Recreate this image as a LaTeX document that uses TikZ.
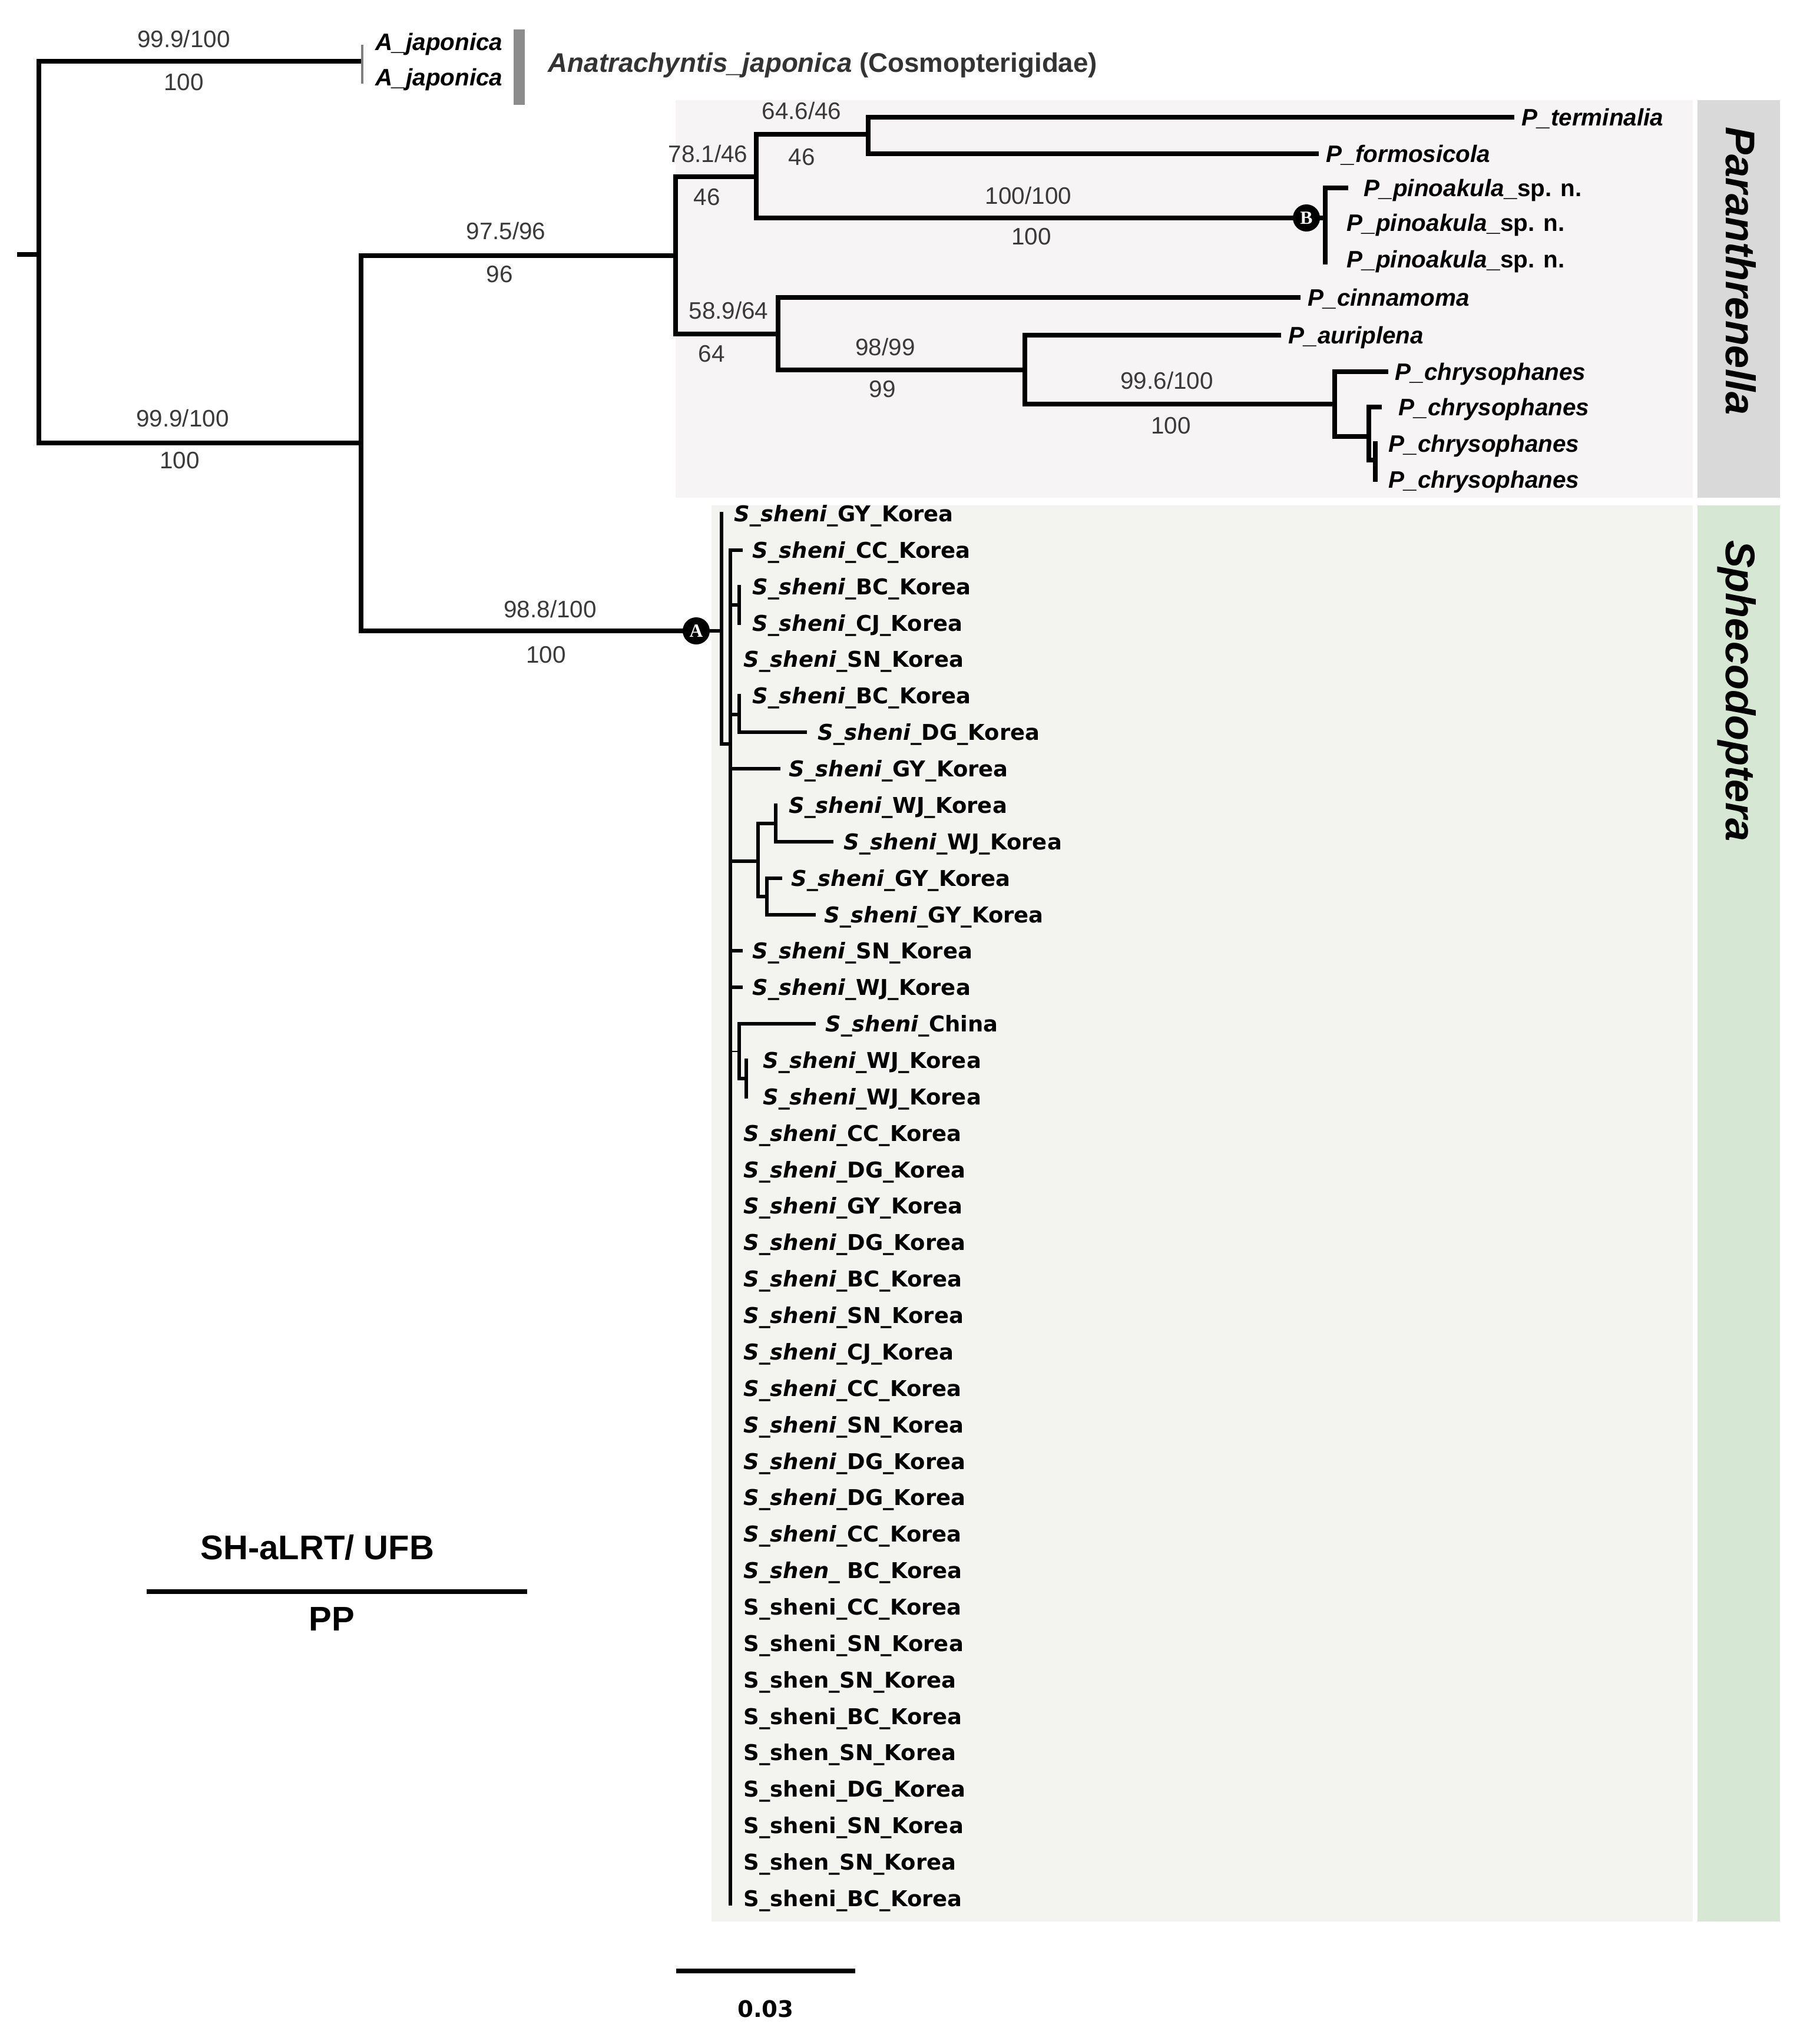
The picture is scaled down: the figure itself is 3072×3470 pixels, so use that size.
\documentclass[tikz,border=0pt]{standalone}
\usepackage{fontspec}
\setmainfont{Liberation Sans}
\newfontfamily\dvs{DejaVu Sans}
\newfontfamily\lserif{Liberation Serif}
\definecolor{pbg}{HTML}{F6F4F4}
\definecolor{pstrip}{HTML}{D9D9D9}
\definecolor{sbg}{HTML}{F3F4F0}
\definecolor{sstrip}{HTML}{D6E7D4}
\definecolor{supc}{HTML}{3A3A3A}
\definecolor{barc}{HTML}{8C8C8C}
\newcommand{\shenlab}[1]{{\itshape S\_sheni}\_#1\_Korea}
\tikzset{
  br/.style={line width=2.2pt, line cap=rect, line join=miter},
  sbr/.style={line width=1.8pt, line cap=rect, line join=miter},
  thinbr/.style={line width=0.5pt},
  supv/.style={font=\fontsize{11.5}{13}\selectfont, text=supc, inner sep=0pt, text height=8.2pt, text depth=0pt},
  ptip/.style={font=\fontsize{11.5}{13}\selectfont\bfseries\itshape, anchor=west, inner sep=0pt, text height=8.2pt, text depth=0pt},
  stip/.style={font=\dvs\bfseries\fontsize{10.5}{12}\selectfont, anchor=west, inner sep=0pt, text height=7.6pt, text depth=0pt},
  circ/.style={circle, fill=black, minimum size=0.46cm, inner sep=0pt, text=white, font=\lserif\bfseries\fontsize{9}{9}\selectfont},
  cladelab/.style={rotate=-90, anchor=base, inner sep=0pt, font=\fontsize{20}{22}\selectfont\bfseries\itshape}
}
\begin{document}
\begin{tikzpicture}[x=0.01cm, y=-0.01cm]
\useasboundingbox (0,0) rectangle (3072,3470);
\fill[white] (0,0) rectangle (3072,3470);

% clade backgrounds
\fill[pbg] (1147,170) rectangle (2874,845);
\fill[pstrip] (2882,170) rectangle (3022,845);
\fill[sbg] (1208,858) rectangle (2874,3262);
\fill[sstrip] (2882,858) rectangle (3022,3262);
\node[cladelab] (labP) at (2930,460) {Paranthrenella};
\node[cladelab] (labS) at (2930,1173) {Sphecodoptera};

% ---------- top level ----------
\coordinate (rs) at (33,432);
\coordinate (r0) at (66,432);
\coordinate (aj) at (613,104);
\coordinate (n1) at (613,752);
\coordinate (nP) at (1147,434);
\node[circ] (A) at (1182,1071) {A};
\coordinate (nS0) at (1225,1071);

\draw[br] (rs) -- (r0);
\draw[br] (aj) -| (r0) |- (n1);
\draw[br] (nP) -| (n1) |- (A);
\draw[sbr] (A) -- (nS0);

% A. japonica
\coordinate (aj1) at (615,76);
\coordinate (aj2) at (615,142);
\draw[gray, line width=0.9pt] (aj1) -- (aj2);
\node[ptip] (ja1) at (637,71) {A\_japonica};
\node[ptip] (ja2) at (637,131) {A\_japonica};
\fill[barc] (872,50) rectangle (891,178);
\node[anchor=west, inner sep=0pt, text=black!80, font=\fontsize{13}{15}\selectfont\bfseries, text height=9.3pt, text depth=0pt] (anat) at (930,106) {{\itshape Anatrachyntis\_japonica} (Cosmopterigidae)};

% support values top level
\node[supv] (s1a) at (312,66) {99.9/100};
\node[supv] (s1b) at (312,139) {100};
\node[supv] (s2a) at (310,710) {99.9/100};
\node[supv] (s2b) at (305,781) {100};
\node[supv] (s3a) at (859,392) {97.5/96};
\node[supv] (s3b) at (848,465) {96};
\node[supv] (s4a) at (934,1034) {98.8/100};
\node[supv] (s4b) at (927,1111) {100};

% ---------- Paranthrenella ----------
\coordinate (nP1) at (1284,300);
\coordinate (nP11) at (1474,228);
\coordinate (tTer) at (2567,199);
\coordinate (tFor) at (2235,261);
\node[circ] (B) at (2218,370) {B};
\coordinate (nB) at (2250,370);
\coordinate (tPin1) at (2285,319);
\coordinate (tPin3) at (2250,445);
\coordinate (nP2) at (1321,567);
\coordinate (tCin) at (2204,505);
\coordinate (nP22) at (1740,628);
\coordinate (tAur) at (2171,569);
\coordinate (nP222) at (2266,686);
\coordinate (tCh1) at (2353,631);
\coordinate (nP2222) at (2324,741);
\coordinate (tCh2) at (2342,691);
\coordinate (nP22222) at (2335,781);
\coordinate (tCh3) at (2335,753);
\coordinate (tCh4) at (2335,814);

\draw[br] (nP1) -| (nP) |- (nP2);
\draw[br] (nP11) -| (nP1) |- (B);
\draw[br] (tTer) -| (nP11) |- (tFor);
\draw[br] (B) -- (nB);
\draw[br] (tPin1) -| (nB) -- (tPin3);
\draw[br] (tCin) -| (nP2) |- (nP22);
\draw[br] (tAur) -| (nP22) |- (nP222);
\draw[br] (tCh1) -| (nP222) |- (nP2222);
\draw[br] (tCh2) -| (nP2222) |- (nP22222);
\draw[br] (tCh3) -- (tCh4);

\node[ptip] (pTer) at (2583,199) {P\_terminalia};
\node[ptip] (pFor) at (2251,261) {P\_formosicola};
\node[ptip] (pPin1) at (2315,319) {P\_pinoakula{\upshape\_sp. n.}};
\node[ptip] (pPin2) at (2286,378) {P\_pinoakula{\upshape\_sp. n.}};
\node[ptip] (pPin3) at (2286,440) {P\_pinoakula{\upshape\_sp. n.}};
\node[ptip] (pCin) at (2220,505) {P\_cinnamoma};
\node[ptip] (pAur) at (2187,569) {P\_auriplena};
\node[ptip] (pCh1) at (2368,631) {P\_chrysophanes};
\node[ptip] (pCh2) at (2374,691) {P\_chrysophanes};
\node[ptip] (pCh3) at (2357,753) {P\_chrysophanes};
\node[ptip] (pCh4) at (2357,814) {P\_chrysophanes};

\node[supv] (s5a) at (1202,261) {78.1/46};
\node[supv] (s5b) at (1200,334) {46};
\node[supv] (s6a) at (1361,188) {64.6/46};
\node[supv] (s6b) at (1361,266) {46};
\node[supv] (s7a) at (1746,332) {100/100};
\node[supv] (s7b) at (1751,401) {100};
\node[supv] (s8a) at (1237,527) {58.9/64};
\node[supv] (s8b) at (1208,600) {64};
\node[supv] (s9a) at (1503,589) {98/99};
\node[supv] (s9b) at (1498,660) {99};
\node[supv] (s10a) at (1981,646) {99.6/100};
\node[supv] (s10b) at (1988,722) {100};

% ---------- Sphecodoptera ----------
\coordinate (nS0t) at (1225,872);
\coordinate (nS1) at (1240,1263);
\coordinate (nS1t) at (1240,934);
\coordinate (nS1b) at (1240,3232);
\coordinate (l2) at (1258,934);
\coordinate (c34) at (1255,1027);
\coordinate (l3) at (1255,996);
\coordinate (l4) at (1255,1058);
\coordinate (c67) at (1255,1213);
\coordinate (l6) at (1255,1181);
\coordinate (l7) at (1367,1243);
\coordinate (l8) at (1322,1305);
\coordinate (c912) at (1287,1462);
\coordinate (c910) at (1317,1398);
\coordinate (l9) at (1317,1367);
\coordinate (l10) at (1412,1429);
\coordinate (c1112) at (1302,1522);
\coordinate (l11) at (1325,1491);
\coordinate (l12) at (1382,1553);
\coordinate (l13) at (1258,1614);
\coordinate (l14) at (1258,1676);
\coordinate (c1517) at (1255,1785);
\coordinate (l15) at (1382,1738);
\coordinate (c1617) at (1267,1831);
\coordinate (l16) at (1267,1800);
\coordinate (l17) at (1267,1862);

\draw[sbr] (nS0t) |- (nS1);
\draw[sbr] (l2) -- (nS1t) -- (nS1b);
\draw[sbr] (nS1 |- c34) -- (c34);
\draw[sbr] (l3) -- (l4);
\draw[sbr] (nS1 |- c67) -- (c67);
\draw[sbr] (l6) |- (l7);
\draw[sbr] (nS1 |- l8) -- (l8);
\draw[sbr] (nS1 |- c912) -- (c912);
\draw[sbr] (c910) -| (c912) |- (c1112);
\draw[sbr] (l9) |- (l10);
\draw[sbr] (l11) -| (c1112) |- (l12);
\draw[sbr] (nS1 |- l13) -- (l13);
\draw[sbr] (nS1 |- l14) -- (l14);
\draw[thinbr] (nS1 |- c1517) -- (c1517);
\draw[sbr] (l15) -| (c1517) |- (c1617);
\draw[sbr] (l16) -- (l17);

\node[stip] (t1) at (1246,872) {\shenlab{GY}};
\node[stip] (t2) at (1277,934) {\shenlab{CC}};
\node[stip] (t3) at (1277,996) {\shenlab{BC}};
\node[stip] (t4) at (1277,1058) {\shenlab{CJ}};
\node[stip] (t5) at (1262,1119) {\shenlab{SN}};
\node[stip] (t6) at (1277,1181) {\shenlab{BC}};
\node[stip] (t7) at (1388,1243) {\shenlab{DG}};
\node[stip] (t8) at (1339,1305) {\shenlab{GY}};
\node[stip] (t9) at (1339,1367) {\shenlab{WJ}};
\node[stip] (t10) at (1432,1429) {\shenlab{WJ}};
\node[stip] (t11) at (1343,1491) {\shenlab{GY}};
\node[stip] (t12) at (1399,1553) {\shenlab{GY}};
\node[stip] (t13) at (1277,1614) {\shenlab{SN}};
\node[stip] (t14) at (1277,1676) {\shenlab{WJ}};
\node[stip] (t15) at (1401,1738) {{\itshape S\_sheni}\_China};
\node[stip] (t16) at (1295,1800) {\shenlab{WJ}};
\node[stip] (t17) at (1295,1862) {\shenlab{WJ}};
\foreach \i/\c in {18/CC,19/DG,20/GY,21/DG,22/BC,23/SN,24/CJ,25/CC,26/SN,27/DG,28/DG,29/CC}{
  \node[stip] (t\i) at (1262,{872+(\i-1)*61.87}) {\shenlab{\c}};
}
\node[stip] (t30) at (1262,{872+29*61.87}) {{\itshape S\_shen\_} BC\_Korea};
\foreach \i/\c in {31/S\_sheni\_CC\_Korea,32/S\_sheni\_SN\_Korea,33/S\_shen\_SN\_Korea,34/S\_sheni\_BC\_Korea,35/S\_shen\_SN\_Korea,36/S\_sheni\_DG\_Korea,37/S\_sheni\_SN\_Korea,38/S\_shen\_SN\_Korea,39/S\_sheni\_BC\_Korea}{
  \node[stip] (t\i) at (1262,{872+(\i-1)*61.87}) {\c};
}

% ---------- legend and scale ----------
\node[inner sep=0pt, font=\fontsize{16.5}{18}\selectfont\bfseries, text height=11.8pt, text depth=0pt] (leg1) at (539,2627) {SH-aLRT/ UFB};
\coordinate (lg1) at (249,2702);
\coordinate (lg2) at (895,2702);
\draw[line width=2.2pt] (lg1) -- (lg2);
\node[inner sep=0pt, font=\fontsize{16.5}{18}\selectfont\bfseries, text height=11.8pt, text depth=0pt] (leg2) at (563,2748) {PP};

\coordinate (sc1) at (1148,3346);
\coordinate (sc2) at (1452,3346);
\draw[line width=2.2pt] (sc1) -- (sc2);
\node[inner sep=0pt, font=\dvs\bfseries\fontsize{11}{13}\selectfont, text height=8pt, text depth=0pt] (scl) at (1300,3410) {0.03};
\end{tikzpicture}
\end{document}
